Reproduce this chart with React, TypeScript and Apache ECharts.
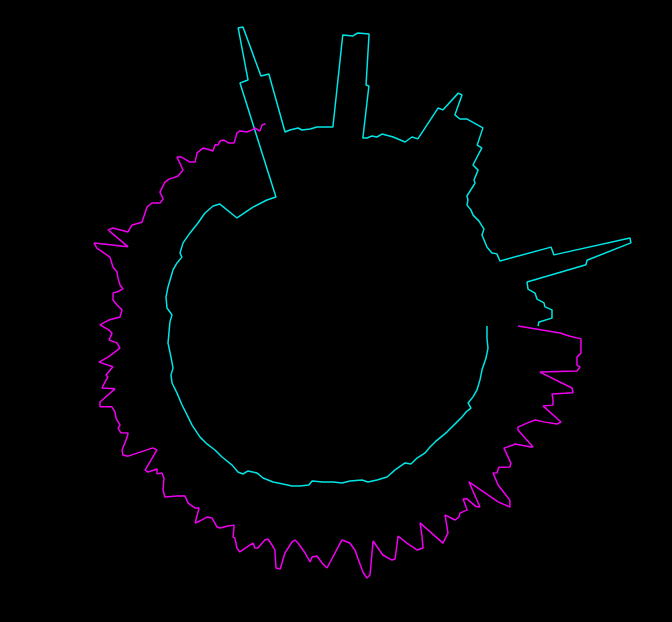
import { useEffect, useRef } from 'react';
import * as echarts from 'echarts';

// cyan trace: radius and angle (deg, clockwise from east)
const cyanRadius = [
  160, 160.4, 162.5, 162.2, 161.1, 162.2, 163.1, 162.3, 160.7, 165.7,
  163.5, 162.8, 161.6, 160.1, 158.5, 158.9, 160.4, 159.8, 161.6, 157.6,
  159.2, 162.5, 161.9, 161.3, 157.9, 156.7, 157.7, 156.1, 156.1, 155.7,
  160.0, 162.3, 163.8, 164.0, 165.1, 164.9, 162.8, 165.1, 170.2, 171.0,
  168.4, 167.9, 167.1, 168.3, 168.7, 167.4, 166.1, 165.1, 164.3, 165.1,
  163.5, 159.6, 159.1, 159.9, 158.2, 157.1, 155.4, 161.0, 163.6, 163.7,
  163.9, 162.7, 160.6, 164.1, 166.2, 165.6, 165.1, 166.3, 165.5, 162.3,
  140.6, 140.1, 139.6, 138.7, 258.1, 258.4, 311.0, 310.6, 258.6, 258.6,
  198.5, 199.5, 200.1, 197.6, 197.7, 199.3, 199.1, 291.4, 291.2, 294.6,
  295.0, 244.1, 243.6, 191.4, 192.2, 195.3, 195.5, 199.7, 200.2, 199.9,
  207.2, 208.0, 244.6, 245.2, 267.3, 267.6, 246.8, 246.0, 249.9, 252.1,
  235.1, 236.0, 217.3, 217.1, 207.2, 205.8, 191.0, 189.1, 185.0, 184.9,
  183.4, 184.7, 184.5, 179.7, 178.4, 180.4, 184.6, 184.8, 237.5, 237.8,
  315.5, 315.1, 268.2, 266.1, 204.8, 204.4, 210.6, 211.7, 218.2, 218.8,
  225.6, 225.1, 212.0, 211.0,
];
const cyanAngle = [
  0, 4.3, 7.8, 11.4, 15.8, 19.4, 23.1, 25.9, 28.6, 29.7,
  31.7, 34.0, 36.4, 41.5, 47.0, 49.6, 52.3, 55.7, 58.7, 60.3,
  64.7, 68.3, 72.0, 75.3, 77.2, 81.6, 84.5, 87.8, 91.5, 95.5,
  96.5, 99.6, 102.3, 105.6, 109.1, 112.8, 115.5, 118.6, 119.6, 121.4,
  124.3, 128.7, 132.1, 135.5, 138.8, 143.7, 146.8, 151.4, 155.9, 159.8,
  162.6, 164.7, 168.8, 173.9, 177.5, 181.5, 184.1, 186.4, 190.2, 193.8,
  200.0, 202.8, 205.4, 206.4, 210.0, 214.2, 218.6, 222.8, 226.5, 228.7,
  230.2, 238.1, 244.5, 248.4, 250.3, 252.2, 253.4, 254.3, 255.2, 257.0,
  257.8, 259.3, 261.7, 262.7, 265.1, 267.1, 271.7, 273.1, 275.1, 276.0,
  278.2, 279.2, 279.9, 280.8, 282.0, 283.3, 284.8, 286.0, 289.3, 293.0,
  294.2, 295.9, 297.0, 298.2, 299.4, 300.3, 301.2, 302.7, 304.1, 308.2,
  309.7, 311.0, 312.2, 314.1, 315.2, 316.0, 317.1, 318.2, 319.2, 321.1,
  322.8, 325.4, 328.3, 329.6, 333.7, 336.1, 337.0, 339.4, 340.6, 342.6,
  343.8, 344.7, 345.8, 346.7, 347.6, 349.6, 351.0, 352.7, 353.9, 355.0,
  355.9, 358.0, 358.9, 360,
];

// magenta trace
const magentaRadius = [
  191, 233.1, 243.2, 254.3, 255.4, 251.9, 253.0, 256.3, 254.0, 217.9,
  252.7, 255.0, 235.1, 237.8, 239.4, 230.3, 252.9, 250.0, 238.2, 228.3,
  222.3, 216.1, 217.5, 238.9, 237.2, 222.0, 220.8, 215.0, 229.4, 231.0,
  222.4, 224.7, 221.7, 233.5, 252.5, 257.4, 245.4, 210.9, 237.0, 233.8,
  222.4, 220.1, 231.2, 229.5, 232.2, 232.4, 222.8, 239.8, 246.1, 217.8,
  229.6, 241.9, 241.4, 231.3, 221.7, 242.7, 242.9, 235.7, 219.9, 252.7,
  255.2, 248.6, 225.7, 218.2, 214.5, 242.0, 237.1, 230.2, 231.5, 236.6,
  228.1, 218.9, 216.4, 218.8, 230.9, 247.5, 247.3, 230.0, 225.8, 221.0,
  222.8, 232.5, 233.4, 229.3, 235.0, 242.2, 239.5, 231.1, 231.0, 219.7,
  223.2, 228.6, 229.1, 223.8, 225.6, 232.7, 237.1, 222.5, 224.8, 225.1,
  221.5, 223.4, 226.7, 235.6, 231.9, 222.9, 221.0, 225.4, 222.1, 231.0,
  232.1, 210.4, 212.5, 237.7, 241.4, 239.6, 229.2, 225.9, 232.1, 232.6,
  229.5, 230.2, 228.8, 229.8, 241.0, 239.4, 221.2, 233.4, 229.0, 224.9,
  226.4, 217.9, 230.8, 221.2, 208.2, 210.7, 218.4, 215.1, 218.0, 227.0,
  218.1, 207.2, 205.6, 211.0, 215.6, 216.5, 212.7, 207.3, 211.0, 214.4,
  216.8, 222.0, 227.7, 242.9, 247.3, 214.1, 239.1, 235.4, 220.1, 219.6,
  212.2, 215.8, 213.9, 207.4, 207.4, 214.1, 216.7, 215.8, 213.6, 211.4,
  212.3, 226.0, 223.3, 213.7, 210.5, 216.4, 216.9, 213.8, 208.9, 212.9,
  211.3, 213.7, 212.6, 207.6, 205.3, 213.0, 213.5, 209.8, 209.9, 210.7,
  206.2, 211.2, 211.3,
];
const magentaAngle = [
  0, 1.7, 2.4, 2.9, 6.1, 7.1, 8.9, 9.2, 10.2, 12.2,
  14.2, 15.2, 16.8, 18.1, 19.3, 20.3, 22.3, 23.1, 23.8, 24.3,
  25.9, 27.9, 28.6, 30.4, 30.7, 32.1, 32.6, 34.6, 36.7, 37.6,
  39.4, 40.8, 41.5, 42.9, 43.6, 44.7, 45.8, 47.7, 49.8, 50.5,
  51.0, 51.8, 52.7, 54.6, 55.4, 56.6, 58.0, 59.7, 61.9, 64.7,
  65.6, 66.6, 68.1, 69.8, 71.3, 73.7, 74.5, 76.3, 77.9, 80.2,
  81.0, 81.7, 82.9, 84.0, 86.0, 90.0, 91.2, 92.5, 93.7, 94.1,
  95.5, 97.6, 98.5, 99.2, 100.5, 100.9, 101.9, 103.1, 104.1, 105.5,
  106.2, 107.3, 108.0, 108.8, 109.9, 111.1, 112.1, 113.5, 114.0, 115.0,
  116.3, 117.9, 118.7, 120.9, 122.1, 123.1, 123.8, 125.1, 125.9, 128.1,
  129.9, 130.5, 131.4, 133.5, 135.0, 137.0, 138.3, 139.0, 139.9, 140.8,
  141.6, 143.9, 145.0, 146.8, 147.7, 148.8, 150.8, 151.7, 152.6, 153.9,
  154.4, 156.4, 157.9, 159.4, 160.4, 161.5, 163.5, 164.6, 165.8, 166.9,
  167.5, 169.2, 171.0, 171.9, 173.9, 175.4, 176.3, 178.1, 178.9, 180.3,
  181.6, 182.5, 184.5, 185.7, 186.9, 188.8, 189.2, 190.3, 191.2, 192.9,
  194.4, 195.4, 197.6, 198.7, 199.6, 201.7, 203.7, 204.6, 205.3, 207.4,
  209.3, 213.5, 215.1, 216.4, 217.8, 218.7, 221.6, 222.9, 223.9, 225.2,
  227.3, 228.4, 229.2, 230.1, 231.2, 233.1, 235.1, 235.9, 236.9, 238.3,
  238.9, 240.0, 241.0, 241.8, 243.1, 245.0, 246.0, 247.6, 249.1, 250.0,
  251.0, 252.1, 253.1,
];

const pairs = (r: number[], a: number[]) => r.map((v, i) => [v, a[i]]);

const App = () => {
  const chartRef = useRef<HTMLDivElement>(null);

  useEffect(() => {
    if (!chartRef.current) return;
    const chart = echarts.init(chartRef.current, null, { renderer: 'svg' });

    chart.setOption({
      animation: false,
      backgroundColor: '#000000',
      polar: { center: [327, 326], radius: 320 },
      angleAxis: {
        type: 'value',
        min: 0,
        max: 360,
        startAngle: 0,
        clockwise: true,
        show: false,
      },
      radiusAxis: { type: 'value', min: 0, max: 320, show: false },
      series: [
        {
          type: 'line',
          coordinateSystem: 'polar',
          data: pairs(cyanRadius, cyanAngle),
          showSymbol: false,
          lineStyle: { color: '#00e5e5', width: 1.5 },
        },
        {
          type: 'line',
          coordinateSystem: 'polar',
          data: pairs(magentaRadius, magentaAngle),
          showSymbol: false,
          lineStyle: { color: '#f000f0', width: 1.5 },
        },
      ],
    });

    return () => {
      chart.dispose();
    };
  }, []);

  return (
    <div
      ref={chartRef}
      style={{ position: 'fixed', left: 0, top: 0, width: '672px', height: '622px', background: '#000' }}
    />
  );
};

export default App;
